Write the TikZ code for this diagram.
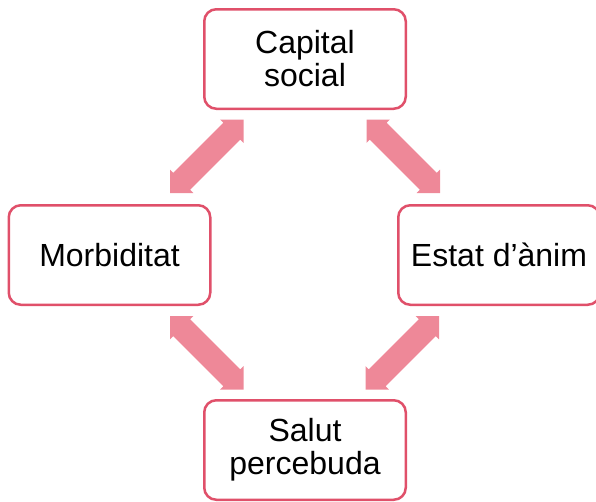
\documentclass[tikz,border=0pt]{standalone}
\usepackage{fontspec}
\setmainfont{Liberation Sans}
\usetikzlibrary{calc}
\definecolor{boxline}{HTML}{E0506A}
\definecolor{arrowfill}{HTML}{EE8898}
\newcommand\dblarrow[2]{%
  \fill[blockarrow] (#1)
    -- ($(#1)!23.33pt!45:(#2)$)
    -- ($(#1)!20.40pt!36.03:(#2)$)
    -- ($(#2)!20.40pt!-36.03:(#1)$)
    -- ($(#2)!23.33pt!-45:(#1)$)
    -- (#2)
    -- ($(#2)!23.33pt!45:(#1)$)
    -- ($(#2)!20.40pt!36.03:(#1)$)
    -- ($(#1)!20.40pt!-36.03:(#2)$)
    -- ($(#1)!23.33pt!-45:(#2)$)
    -- cycle;}
\begin{document}
\begin{tikzpicture}[x=1pt,y=-1pt,
  box/.style={draw=boxline, line width=2.5pt, rounded corners=12pt, fill=white,
    minimum width=201.5pt, minimum height=99.5pt, inner sep=0pt, align=center,
    font=\fontsize{32}{33}\selectfont},
  blockarrow/.style={fill=arrowfill, draw=none}]
\useasboundingbox (0,0) rectangle (596,501);
\clip (0,0) rectangle (596,501);
\node[box] (cap) at (305,59) {Capital\\social};
\node[box] (mor) at (109.5,255) {Morbiditat};
\node[box] (est) at (499,255) {Estat d’ànim};
\node[box] (sal) at (305,450) {Salut\\percebuda};
\coordinate (a1) at (170,193);
\coordinate (b1) at (243.5,119.5);
\coordinate (a2) at (440,193);
\coordinate (b2) at (366.5,119.5);
\coordinate (a3) at (170,316);
\coordinate (b3) at (243.5,389.5);
\coordinate (a4) at (439,316);
\coordinate (b4) at (365.5,389.5);
\dblarrow{a1}{b1}
\dblarrow{a2}{b2}
\dblarrow{a3}{b3}
\dblarrow{a4}{b4}
\end{tikzpicture}
\end{document}
